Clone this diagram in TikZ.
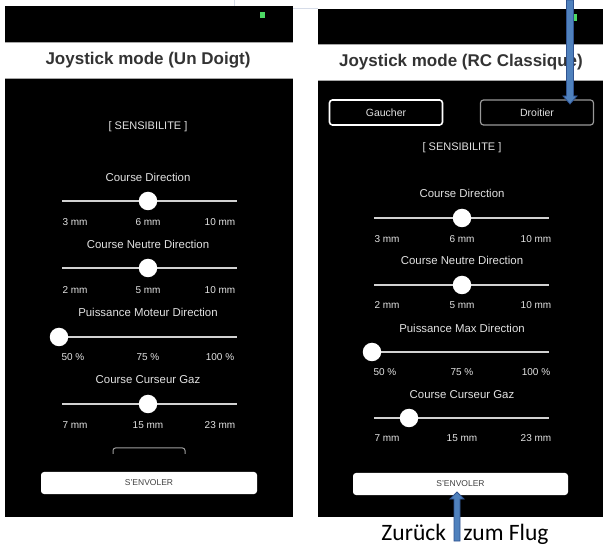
\documentclass[tikz,border=0pt]{standalone}
\usepackage{fontspec}
\setmainfont{Liberation Sans}
\newfontfamily\captionfont{Carlito}
\usetikzlibrary{positioning}
\definecolor{trackgray}{HTML}{D2D2D2}
\definecolor{labelgray}{HTML}{E2E2E2}
\definecolor{dotgreen}{HTML}{4CD964}
\definecolor{arrowblue}{HTML}{4F81BD}
\definecolor{arrowedge}{HTML}{2F528F}
\definecolor{faintline}{HTML}{D6DCE8}

\begin{document}
\begin{tikzpicture}[x=1pt, y=-1pt,
    screen/.style={fill=black, draw=none},
    bandline/.style={draw=gray!70, line width=0.7pt},
    title/.style={font=\bfseries\fontsize{17}{19}\selectfont, text=black!80},
    sens/.style={font=\fontsize{11}{13}\selectfont, text=labelgray},
    heading/.style={font=\fontsize{11.4}{13}\selectfont, text=labelgray},
    tick/.style={font=\fontsize{10}{12}\selectfont, text=labelgray},
    track/.style={draw=trackgray, line width=2pt},
    knob/.style={circle, fill=white, minimum size=18.5pt, inner sep=0pt},
    modebtn/.style={draw=white, line width=1.6pt, rounded corners=3pt,
        minimum width=113pt, minimum height=25pt,
        font=\fontsize{10.5}{12}\selectfont, text=labelgray},
    flybtn/.style={fill=white, rounded corners=3pt, minimum width=216pt,
        minimum height=22pt, font=\fontsize{8.5}{10}\selectfont, text=black!75},
    blockarrow/.style={fill=arrowblue, draw=arrowedge, line width=0.8pt, line join=miter},
    faint/.style={draw=faintline, line width=0.8pt}
]
\useasboundingbox (0,0) rectangle (603,545);

% faint page lines
\draw[faint] (234,0) -- (234,6);
\draw[faint] (293,8) -- (318,8);

% left screen
\fill[screen] (5,6) rectangle (293,42);
\fill[screen] (5,78) rectangle (293,517);
\draw[bandline] (5,42) -- (293,42);
\draw[bandline] (5,78) -- (293,78);
\fill[dotgreen] (260,12) rectangle (265,18);
\node (Ltitle) [title] at (148,60) {Joystick mode (Un Doigt)};
\node (Lsens) [sens] at (148,127) {[ SENSIBILITE ]};

\node (Lhead1) [heading] at (148,177) {Course Direction};
\draw[track] (62,201) -- (237,201);
\node (Lknob1) [knob] at (148,201) {};
\node (Lmin1) [tick] at (75,222) {3 mm};
\node (Lmid1) [tick] at (148,222) {6 mm};
\node (Lmax1) [tick] at (220,222) {10 mm};

\node (Lhead2) [heading] at (148,244) {Course Neutre Direction};
\draw[track] (62,268) -- (237,268);
\node (Lknob2) [knob] at (148,268) {};
\node (Lmin2) [tick] at (75,290) {2 mm};
\node (Lmid2) [tick] at (148,290) {5 mm};
\node (Lmax2) [tick] at (220,290) {10 mm};

\node (Lhead3) [heading] at (148,312) {Puissance Moteur Direction};
\draw[track] (62,337) -- (237,337);
\node (Lknob3) [knob] at (59,337) {};
\node (Lmin3) [tick] at (73,357) {50 \%};
\node (Lmid3) [tick] at (148,357) {75 \%};
\node (Lmax3) [tick] at (220,357) {100 \%};

\node (Lhead4) [heading] at (148,380) {Course Curseur Gaz};
\draw[track] (62,404) -- (237,404);
\node (Lknob4) [knob] at (148,404) {};
\node (Lmin4) [tick] at (75,425) {7 mm};
\node (Lmid4) [tick] at (148,425) {15 mm};
\node (Lmax4) [tick] at (220,425) {23 mm};

\draw[draw=gray!75, line width=1pt, rounded corners=2.5pt]
    (113,454) -- (113,448) -- (185,448) -- (185,454);
\node (Lfly) [flybtn] at (149,483) {S'ENVOLER};

% right screen
\fill[screen] (318,9) rectangle (603,44);
\fill[screen] (318,80) rectangle (603,517);
\draw[bandline] (318,44) -- (603,44);
\draw[bandline] (318,80) -- (603,80);
\fill[dotgreen] (572,14) rectangle (577,21);
\node (Rtitle) [title] at (461,62) {Joystick mode (RC Classique)};
\node (Rleft) [modebtn] at (386,112.5) {Gaucher};
\node (Rright) [modebtn, draw=gray!80, line width=1.2pt] at (537,112.5) {Droitier};
\node (Rsens) [sens] at (462,148) {[ SENSIBILITE ]};

\node (Rhead1) [heading] at (462,193) {Course Direction};
\draw[track] (374,218) -- (549,218);
\node (Rknob1) [knob] at (462,218) {};
\node (Rmin1) [tick] at (387,239) {3 mm};
\node (Rmid1) [tick] at (462,239) {6 mm};
\node (Rmax1) [tick] at (536,239) {10 mm};

\node (Rhead2) [heading] at (462,260) {Course Neutre Direction};
\draw[track] (374,285) -- (549,285);
\node (Rknob2) [knob] at (462,285) {};
\node (Rmin2) [tick] at (387,305) {2 mm};
\node (Rmid2) [tick] at (462,305) {5 mm};
\node (Rmax2) [tick] at (536,305) {10 mm};

\node (Rhead3) [heading] at (462,328) {Puissance Max Direction};
\draw[track] (374,352) -- (549,352);
\node (Rknob3) [knob] at (372,352) {};
\node (Rmin3) [tick] at (385,372) {50 \%};
\node (Rmid3) [tick] at (462,372) {75 \%};
\node (Rmax3) [tick] at (536,372) {100 \%};

\node (Rhead4) [heading] at (462,395) {Course Curseur Gaz};
\draw[track] (374,418) -- (549,418);
\node (Rknob4) [knob] at (409,418) {};
\node (Rmin4) [tick] at (387,438) {7 mm};
\node (Rmid4) [tick] at (462,438) {15 mm};
\node (Rmax4) [tick] at (536,438) {23 mm};

\node (Rfly) [flybtn, minimum width=215pt] at (460.5,484) {S'ENVOLER};

\node (back) [font=\captionfont\fontsize{23.5}{27}\selectfont, anchor=base, inner sep=0pt]
    at (465,540) {Zurück\hspace{12pt} zum Flug};

% arrows
\coordinate (dtop) at (570,0);
\coordinate (dtip) at (570,104);
\filldraw[blockarrow] ([xshift=-3.5pt]dtop) -- ([xshift=-3.5pt, yshift=8pt]dtip)
    -- ([xshift=-7pt, yshift=8pt]dtip) -- (dtip) -- ([xshift=7pt, yshift=8pt]dtip)
    -- ([xshift=3.5pt, yshift=8pt]dtip) -- ([xshift=3.5pt]dtop) -- cycle;
\coordinate (ftail) at (457,541);
\coordinate (ftip) at (457,492);
\filldraw[blockarrow] ([xshift=-3pt]ftail) -- ([xshift=-3pt, yshift=-7pt]ftip)
    -- ([xshift=-7pt, yshift=-7pt]ftip) -- (ftip) -- ([xshift=7pt, yshift=-7pt]ftip)
    -- ([xshift=3pt, yshift=-7pt]ftip) -- ([xshift=3pt]ftail) -- cycle;
\end{tikzpicture}
\end{document}
